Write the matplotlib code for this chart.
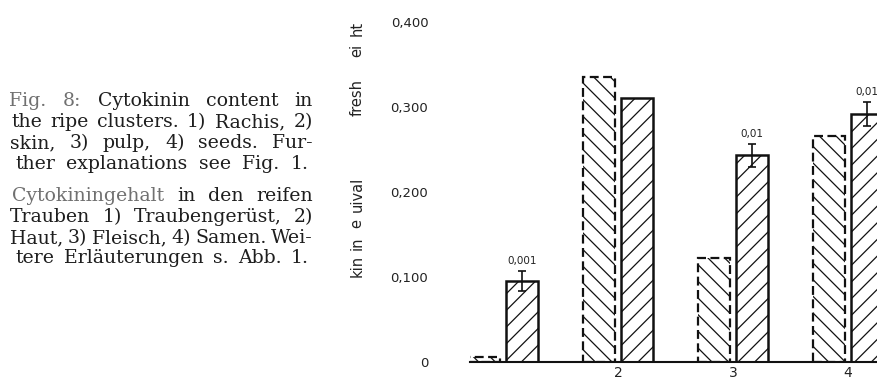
import matplotlib
matplotlib.use("Agg")
import matplotlib.pyplot as plt
import numpy as np

# ---- data ----
groups = [1, 2, 3, 4]
group_labels = ["", "2", "3", "4"]
dashed_vals = [0.006, 0.335, 0.122, 0.266]
solid_vals = [0.095, 0.311, 0.243, 0.292]
solid_err = [0.012, None, 0.013, 0.014]
err_labels = ["0,001", None, "0,01", "0,01"]
yticks = [0, 0.1, 0.2, 0.3, 0.4]
ytick_labels = ["0", "0,100", "0,200", "0,300", "0,400"]

caption_lines = [
    "Fig. 8: Cytokinin content in",
    "the ripe clusters. 1) Rachis, 2)",
    "skin, 3) pulp, 4) seeds. Fur-",
    "ther explanations see Fig. 1.",
    "Cytokiningehalt in den reifen",
    "Trauben 1) Traubengerüst, 2)",
    "Haut, 3) Fleisch, 4) Samen. Wei-",
    "tere Erläuterungen s. Abb. 1.",
]
ylabel_parts = ["kin", "in", "e", "uival", "fresh", "ei", "ht"]

# ---- figure ----
W, H = 877, 377
fig = plt.figure(figsize=(W / 100, H / 100), dpi=100)
plt.rcParams['hatch.linewidth'] = 0.9

x0_px, base_px, top_px = 470, 362, 22
ax = fig.add_axes([x0_px / W, (H - base_px) / H, 1 - x0_px / W, (base_px - top_px) / H])
ax.set_ylim(0, 0.4)
ax.set_xlim(0.713, 4.252)

bw = 0.278
off = 0.165
g = np.array(groups, dtype=float)
ax.bar(g - off, dashed_vals, width=bw, facecolor="white", edgecolor="#111111",
       hatch="\\\\", linewidth=1.6, linestyle=(0, (4, 2)), zorder=2)
ax.bar(g + off, solid_vals, width=bw, facecolor="white", edgecolor="#111111",
       hatch="//", linewidth=1.8, zorder=2)

for xi, v, e, lab in zip(g + off, solid_vals, solid_err, err_labels):
    if e is None:
        continue
    ax.errorbar([xi], [v], yerr=[e], fmt="none", ecolor="#111111", elinewidth=1.2,
                capsize=3, capthick=1.2, zorder=3)
    ax.text(xi, v + e + 0.006, lab, ha="center", va="bottom", fontsize=7.5,
            color="#222222")

for s in ["left", "right", "top"]:
    ax.spines[s].set_visible(False)
ax.spines["bottom"].set_linewidth(1.5)
ax.spines["bottom"].set_color("#111111")

ax.set_yticks(yticks)
ax.set_yticklabels(ytick_labels, fontsize=9.5, color="#222222")
ax.tick_params(axis="y", length=0, pad=30)
ax.set_xticks(groups)
ax.set_xticklabels(group_labels, fontsize=10, color="#222222")
ax.tick_params(axis="x", length=0, pad=3)

# y-label pieces
ypos = [266, 243, 223, 194, 97, 50, 28]
for txt, yp in zip(ylabel_parts, ypos):
    fig.text(357 / W, 1 - yp / H, txt, rotation=90, ha="center", va="center",
             fontsize=10.5, color="#222222", fontweight="medium")

# caption (justified)
line_y = [101, 122, 143, 164, 196, 217, 238, 258]
line_l = [9, 11, 10, 15, 12, 10, 10, 15]
line_r = [313, 313, 313, 309, 313, 313, 313, 309]
renderer = fig.canvas.get_renderer()

def measure(words, fs):
    out = []
    for w in words:
        t = fig.text(0, 0, w, fontsize=fs, family="DejaVu Serif")
        out.append(t.get_window_extent(renderer).width)
        t.remove()
    return out

base_fs = 10.0
min_gap = 4.5
scale = 10.0
for line, l, r in zip(caption_lines, line_l, line_r):
    words = line.split(" ")
    ws = measure(words, base_fs)
    s = (r - l - (len(words) - 1) * min_gap) / sum(ws)
    scale = min(scale, s)
fs = base_fs * scale

for i, (line, yp, l, r) in enumerate(zip(caption_lines, line_y, line_l, line_r)):
    words = line.split(" ")
    widths = measure(words, fs)
    gap = (r - l - sum(widths)) / max(len(words) - 1, 1)
    x = l
    for k, (w, wdt) in enumerate(zip(words, widths)):
        col = "#1e1e1e"
        if (i == 0 and k < 2) or (i == 4 and k == 0):
            col = "#707070"
        fig.text(x / W, 1 - yp / H, w, fontsize=fs, family="DejaVu Serif",
                 color=col, ha="left", va="center")
        x += wdt + gap

fig.savefig("out.png", dpi=100)
